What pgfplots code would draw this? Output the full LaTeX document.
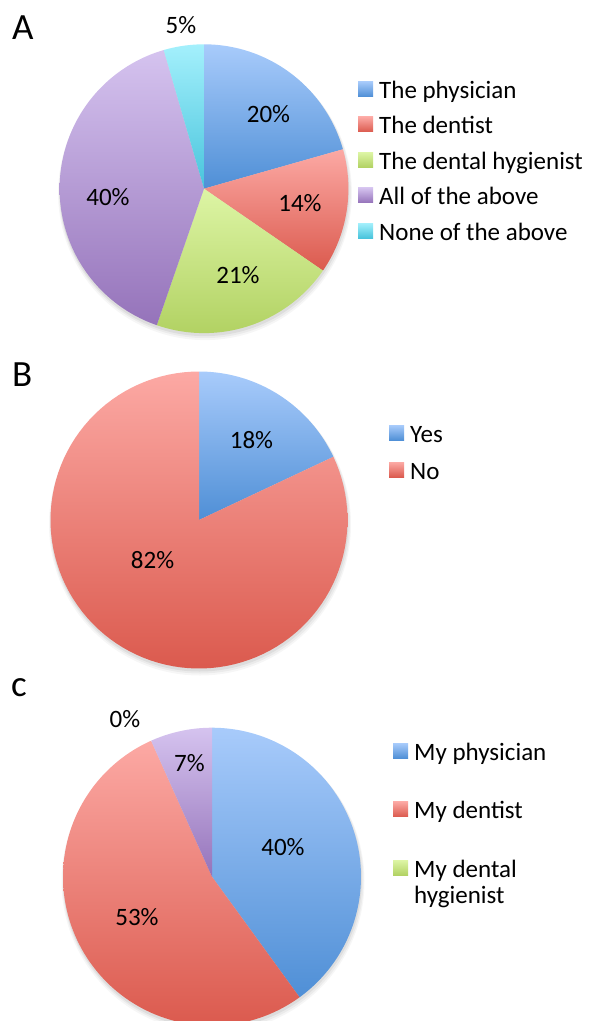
\documentclass[border=0pt]{standalone}
\usepackage{fontspec}
\setmainfont{Carlito}
\usepackage{pgfplots}
\usepackage{pgfplotstable}
\pgfplotsset{compat=1.18}

\definecolor{blueT}{HTML}{A8CBFB}
\definecolor{blueB}{HTML}{4F8FD6}
\definecolor{redT}{HTML}{FCA9A4}
\definecolor{redB}{HTML}{DB5A4E}
\definecolor{greenT}{HTML}{DDF5A5}
\definecolor{greenB}{HTML}{B2D263}
\definecolor{purpleT}{HTML}{D5C3EF}
\definecolor{purpleB}{HTML}{9573BA}
\definecolor{cyanT}{HTML}{A4F0FC}
\definecolor{cyanB}{HTML}{48C4DC}

% Panel A
\pgfplotstableread[col sep=comma]{
value,top,bottom,label
20.6,blueT,blueB,The physician
14.0,redT,redB,The dentist
20.7,greenT,greenB,The dental hygienist
40.2,purpleT,purpleB,All of the above
4.5,cyanT,cyanB,None of the above
}\dataA
% Panel B
\pgfplotstableread[col sep=comma]{
value,top,bottom,label
18,blueT,blueB,Yes
82,redT,redB,No
}\dataB
% Panel C
\pgfplotstableread[col sep=comma]{
value,top,bottom,label
40.0,blueT,blueB,My physician
53.3,redT,redB,My dentist
0,greenT,greenB,{My dental\\hygienist}
6.7,purpleT,purpleB,None
}\dataC

% legend text: extra lines hang below the first one without changing the row height
\newcommand\legentry[1]{\smash{\begin{tabular}[t]{@{}l@{}}#1\end{tabular}}}
\newcommand\legadd[1]{\addlegendentry{\legentry{#1}}}

\newcommand\drawpie[3]{% #1 table, #2 radius, #3 number of legend entries
  \xdef\cum{0}%
  \pgfplotstablegetrowsof{#1}\pgfmathtruncatemacro\last{\pgfplotsretval-1}%
  \pgfplotsforeachungrouped \i in {0,...,\last}{%
    \pgfplotstablegetelem{\i}{value}\of#1\let\v\pgfplotsretval
    \pgfplotstablegetelem{\i}{top}\of#1\let\tc\pgfplotsretval
    \pgfplotstablegetelem{\i}{bottom}\of#1\let\bc\pgfplotsretval
    \pgfplotstablegetelem{\i}{label}\of#1\let\lab\pgfplotsretval
    \pgfmathsetmacro\angA{90-3.6*\cum}%
    \pgfmathsetmacro\angB{90-3.6*(\cum+\v)}%
    \ifdim\v pt>0pt
      \edef\doslice{\noexpand\addplot[draw=none,top color=\tc,bottom color=\bc,domain=\angB:\angA,samples=100,variable=\noexpand\t] ({#2*cos(\noexpand\t)},{#2*sin(\noexpand\t)}) -- (axis cs:0,0) -- cycle;}%
    \else
      \edef\doslice{\noexpand\addlegendimage{draw=none,top color=\tc,bottom color=\bc}}%
    \fi
    \doslice
    \ifnum\i<#3\relax
      \expandafter\legadd\expandafter{\lab}%
    \fi
    \pgfmathsetmacro\tmp{\cum+\v}\xdef\cum{\tmp}%
  }%
}

% soft drop shadow under a pie of radius #1
\newcommand\pieshadow[1]{%
  \fill[black,opacity=0.035] (axis cs:1,-4.5) circle[radius=#1+2.5];
  \fill[black,opacity=0.045] (axis cs:1,-3.5) circle[radius=#1+1.5];
  \fill[black,opacity=0.06] (axis cs:0.5,-2.5) circle[radius=#1+0.5];
}

\pgfplotsset{pieaxis/.style={hide axis, x=1bp, y=1bp,
  xmin=-150, xmax=150, ymin=-150, ymax=150,
  anchor=center, clip=false, legend cell align=left,
  legend image code/.code={\path[##1] (0bp,-4bp) rectangle (15bp,11bp);},
  legend style={draw=none, fill=none, anchor=north west, inner sep=0pt,
    column sep=6bp, nodes={inner sep=0pt, text height=18bp, text depth=6bp},
    font=\fontsize{25bp}{26bp}\selectfont}}}

\begin{document}
\fontsize{25bp}{30bp}\selectfont
\begin{tikzpicture}
\useasboundingbox (0,0) rectangle (590bp,-1021bp);

% ---------- A ----------
\begin{axis}[pieaxis, at={(204bp,-188.7bp)},
  legend style={at={(axis cs:154,108.4)}, row sep=11.4bp}]
\pieshadow{144.4}
\drawpie{\dataA}{144.4}{5}
\node[inner sep=0pt] at (axis cs:64.5,74.2) {20\%};
\node[inner sep=0pt] at (axis cs:96,-14.8) {14\%};
\node[inner sep=0pt] at (axis cs:34,-86.3) {21\%};
\node[inner sep=0pt] at (axis cs:-96,-8.8) {40\%};
\node[inner sep=0pt] at (axis cs:-23,163.7) {5\%};
\end{axis}

% ---------- B ----------
\begin{axis}[pieaxis, at={(199bp,-520bp)},
  legend style={at={(axis cs:190,96)}, row sep=13bp}]
\pieshadow{148.5}
\drawpie{\dataB}{148.5}{2}
\node[inner sep=0pt] at (axis cs:52.5,80) {18\%};
\node[inner sep=0pt] at (axis cs:-46.4,-40) {82\%};
\end{axis}

% ---------- C ----------
\begin{axis}[pieaxis, at={(212bp,-876.7bp)},
  legend style={at={(axis cs:181,134.7)}, row sep=34.5bp}]
\pieshadow{149}
\drawpie{\dataC}{149}{3}
\node[inner sep=0pt] at (axis cs:-87,157.7) {0\%};
\node[inner sep=0pt] at (axis cs:-22.5,113.7) {7\%};
\node[inner sep=0pt] at (axis cs:71,29.7) {40\%};
\node[inner sep=0pt] at (axis cs:-75,-40.8) {53\%};
\end{axis}

\node[anchor=base west, inner sep=0pt, font=\fontsize{37bp}{40bp}\selectfont] at (12bp,-39bp) {A};
\node[anchor=base west, inner sep=0pt, font=\fontsize{37bp}{40bp}\selectfont] at (12bp,-386bp) {B};
\node[anchor=base west, inner sep=0pt, font=\fontsize{37bp}{40bp}\selectfont] at (11bp,-696.7bp) {c};
\end{tikzpicture}
\end{document}
